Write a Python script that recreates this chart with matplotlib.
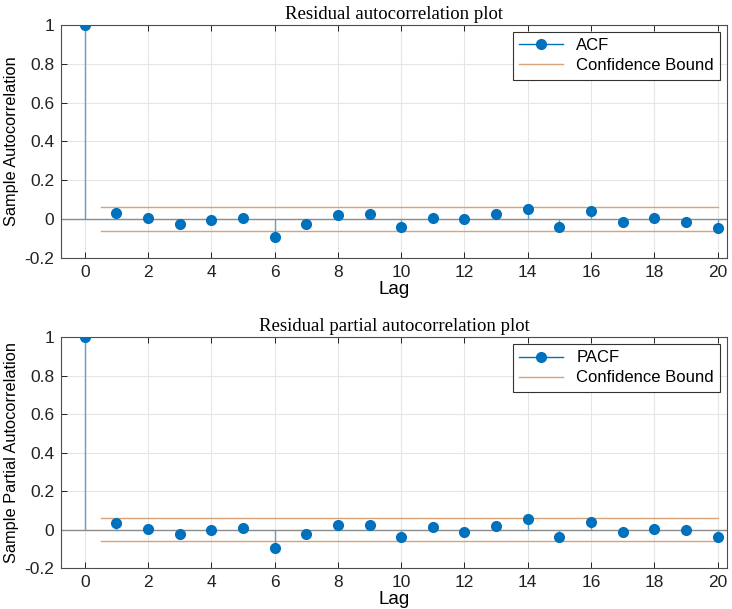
import numpy as np
import matplotlib
matplotlib.use("Agg")
import matplotlib.pyplot as plt

# --- data (lags 0..20) ---
lags = list(range(0, 21))
acf_vals = [1.0, 0.032, 0.004, -0.023, -0.002, 0.007, -0.094, -0.027, 0.019, 0.028,
            -0.039, 0.007, 0.000, 0.027, 0.050, -0.039, 0.044, -0.014, 0.007, -0.014, -0.046]
pacf_vals = [1.0, 0.032, 0.004, -0.023, -0.002, 0.007, -0.097, -0.023, 0.021, 0.023,
             -0.041, 0.011, -0.012, 0.019, 0.053, -0.037, 0.039, -0.012, 0.004, -0.005, -0.037]
conf_bound = 0.062
bound_x = [0.5, 20]
y_ticks = [-0.2, 0, 0.2, 0.4, 0.6, 0.8, 1]
y_tick_labels = ["-0.2", "0", "0.2", "0.4", "0.6", "0.8", "1"]
x_ticks = list(range(0, 21, 2))

plt.rcParams['font.family'] = ['Liberation Sans', 'DejaVu Sans']

BLUE = '#0072BD'
ORANGE = '#D9A37A'


def draw_panel(ax, vals, name, title, ylabel):
    # stems + markers
    ax.vlines(lags, 0, vals, color='#5a9fd0', lw=1.0, zorder=3)
    ax.plot(lags, vals, 'o', color=BLUE, ms=7, zorder=4)
    ax.axhline(0, color='#8c8c8c', lw=1.0, zorder=2)
    # legend handle for stem
    ax.plot([], [], '-o', color=BLUE, mfc=BLUE, ms=7, lw=1.0, label=name)
    ax.plot(bound_x, [conf_bound, conf_bound], color=ORANGE, lw=1.0, zorder=2,
            label='Confidence Bound')
    ax.plot(bound_x, [-conf_bound, -conf_bound], color=ORANGE, lw=1.0, zorder=2)

    ax.set_xlim(-0.75, 20.3)
    ax.set_ylim(-0.2, 1)
    ax.set_xticks(x_ticks)
    ax.set_yticks(y_ticks)
    ax.set_yticklabels(y_tick_labels)
    ax.tick_params(direction='in', top=True, right=False, labelsize=12.5,
                   length=4, width=0.7, colors='#222222', pad=5)
    ax.grid(True, color='#e6e6e6', lw=0.8, zorder=0)
    ax.set_axisbelow(True)
    for s in ax.spines.values():
        s.set_color('#4d4d4d')
        s.set_linewidth(0.8)
    ax.set_title(title, family=['Liberation Serif'], fontsize=13.5, pad=4)
    ax.set_xlabel('Lag', fontsize=13.5, labelpad=1)
    ax.set_ylabel(ylabel, fontsize=11.8, labelpad=4)
    leg = ax.legend(loc='upper right', fontsize=12, fancybox=False, framealpha=1,
                    edgecolor='#333333', handlelength=2.6, borderaxespad=0.4,
                    labelspacing=0.3, borderpad=0.4)
    leg.get_frame().set_linewidth(0.8)


fig = plt.figure(figsize=(7.32, 6.09), dpi=100)
ax1 = fig.add_axes([0.0833, 0.5764, 0.910, 0.3826])
ax2 = fig.add_axes([0.0833, 0.0673, 0.910, 0.3793])

draw_panel(ax1, acf_vals, 'ACF', 'Residual autocorrelation plot', 'Sample Autocorrelation')
draw_panel(ax2, pacf_vals, 'PACF', 'Residual partial autocorrelation plot',
           'Sample Partial Autocorrelation')

fig.savefig('out.png', dpi=100)
